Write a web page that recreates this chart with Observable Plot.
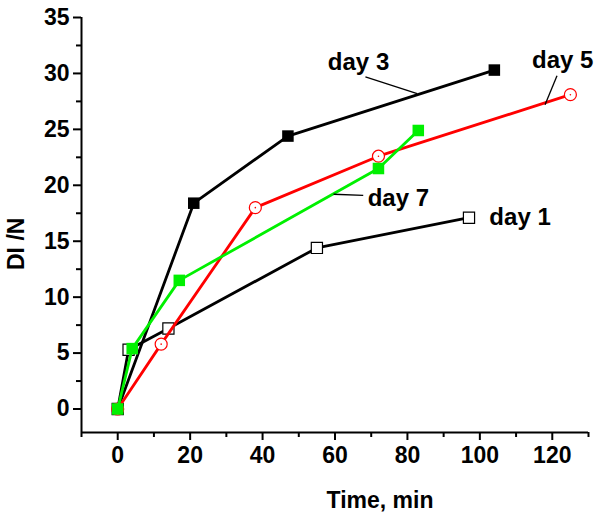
<!DOCTYPE html>
<html>
<head>
<meta charset="utf-8">
<script src="https://cdn.jsdelivr.net/npm/d3@7"></script>
<script src="https://cdn.jsdelivr.net/npm/@observablehq/plot@0.6"></script>
<style>
  html, body { margin: 0; padding: 0; background: #fff; }
</style>
</head>
<body>
<div id="chart"></div>
<script>
// Data
const day1Time = [0, 3, 14, 55, 97];
const day1DI   = [0, 5.3, 7.2, 14.4, 17.1];
const day3Time = [0, 21, 47, 104];
const day3DI   = [0, 18.4, 24.4, 30.3];
const day5Time = [0, 12, 38, 72, 125];
const day5DI   = [0, 5.8, 18.0, 22.6, 28.1];
const day7Time = [0, 4, 17, 72, 83];
const day7DI   = [0, 5.4, 11.5, 21.5, 24.9];

const xTicks = [0, 20, 40, 60, 80, 100, 120];
const xMinor = [-10, 10, 30, 50, 70, 90, 110, 130];
const yTicks = [0, 5, 10, 15, 20, 25, 30, 35];
const yMinor = [2.5, 7.5, 12.5, 17.5, 22.5, 27.5, 32.5];

// Annotation labels (data coordinates)
const labelText = ["day 3", "day 5", "day 7", "day 1"];
const labelX = [66.5, 122.9, 77.5, 111.1];
const labelY = [31.0, 31.2, 18.8, 17.1];
const leaderX1 = [68.4, 121.3, 59.6];
const leaderY1 = [29.7, 29.8, 19.2];
const leaderX2 = [82.7, 118, 67.8];
const leaderY2 = [28.2, 27.2, 19.1];

const toRows = (t, v) => t.map((x, i) => ({x, y: v[i]}));
const d1 = toRows(day1Time, day1DI);
const d3 = toRows(day3Time, day3DI);
const d5 = toRows(day5Time, day5DI);
const d7 = toRows(day7Time, day7DI);
const labels = labelText.map((t, i) => ({t, x: labelX[i], y: labelY[i]}));
const leaders = leaderX1.map((x1, i) => ({x1, y1: leaderY1[i], x2: leaderX2[i], y2: leaderY2[i]}));

const GREEN = "#00f000";
const RED = "#ff0000";
const LW = 2.8;

const chart = Plot.plot({
  width: 600,
  height: 522,
  marginLeft: 81,
  marginRight: 12,
  marginTop: 17,
  marginBottom: 90,
  style: {fontFamily: "'Liberation Sans', Arial, sans-serif", fontWeight: "bold", fontSize: "23px", color: "#000", background: "#fff"},
  x: {domain: [-10, 130]},
  y: {domain: [-2.1, 35]},
  marks: [
    Plot.axisX({ticks: xTicks, tickSize: 8, tickPadding: 6, strokeWidth: 2, label: null, fontSize: 23}),
    Plot.axisX({ticks: xMinor, tickSize: 5, tickFormat: () => "", strokeWidth: 2, label: null}),
    Plot.axisY({ticks: yTicks, tickSize: 8, tickPadding: 4, strokeWidth: 2, label: null, fontSize: 23}),
    Plot.axisY({ticks: yMinor, tickSize: 5, tickFormat: () => "", strokeWidth: 2, label: null}),
    Plot.ruleX([-10], {strokeWidth: 2}),
    Plot.ruleY([-2.1], {strokeWidth: 2}),
    // day 1
    Plot.line(d1, {x: "x", y: "y", stroke: "#000", strokeWidth: LW}),
    Plot.dot(d1, {x: "x", y: "y", symbol: "square", r: 6.3, fill: "#fff", stroke: "#000", strokeWidth: 1.2}),
    // day 3
    Plot.line(d3, {x: "x", y: "y", stroke: "#000", strokeWidth: LW}),
    Plot.dot(d3, {x: "x", y: "y", symbol: "square", r: 6.5, fill: "#000", stroke: "none"}),
    // day 5
    Plot.line(d5, {x: "x", y: "y", stroke: RED, strokeWidth: LW}),
    Plot.dot(d5, {x: "x", y: "y", r: 6, fill: "#fff", stroke: RED, strokeWidth: 1.2}),
    Plot.dot(d5, {x: "x", y: "y", r: 0.8, fill: RED, stroke: "none"}),
    // day 7
    Plot.line(d7, {x: "x", y: "y", stroke: GREEN, strokeWidth: LW}),
    Plot.dot(d7, {x: "x", y: "y", symbol: "square", r: 6.5, fill: GREEN, stroke: "none"}),
    // annotations
    Plot.link(leaders, {x1: "x1", y1: "y1", x2: "x2", y2: "y2", stroke: "#000", strokeWidth: 1.3}),
    Plot.text(labels, {x: "x", y: "y", text: "t", fontSize: 24, fontWeight: "bold", fill: "#000", textAnchor: "middle"}),
    // axis titles
    Plot.text(["Time, min"], {frameAnchor: "bottom", dx: 45, dy: 75, fontSize: 23, fontWeight: "bold", fill: "#000"}),
    Plot.text(["DI /N"], {frameAnchor: "left", dx: -65, dy: 45, rotate: -90, fontSize: 23, fontWeight: "bold", fill: "#000"})
  ]
});
document.getElementById("chart").appendChild(chart);
</script>
</body>
</html>
